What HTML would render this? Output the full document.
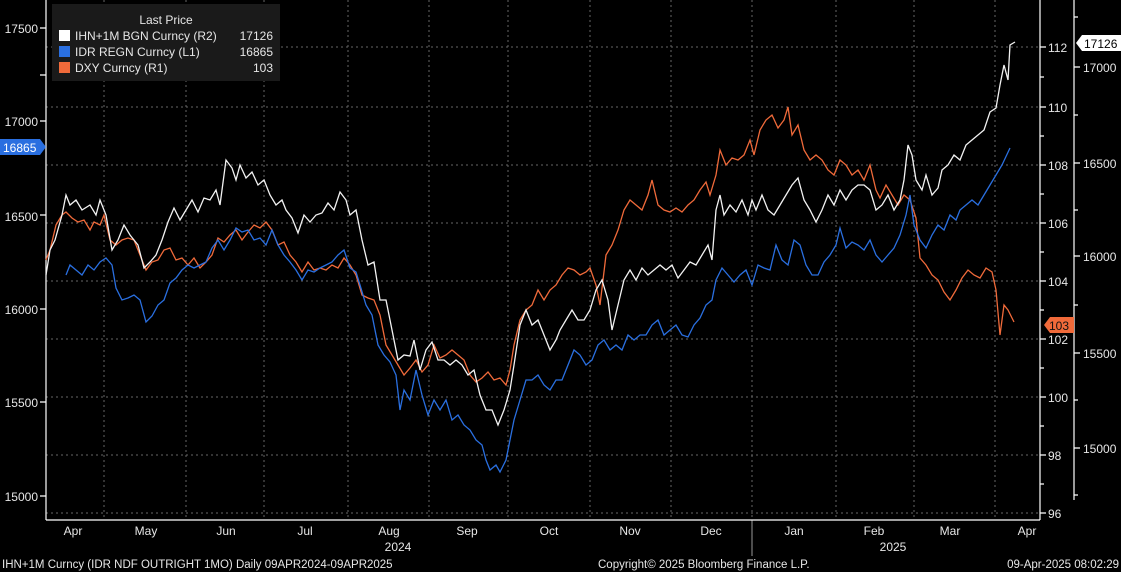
<!DOCTYPE html>
<html><head><meta charset="utf-8"><style>
body{margin:0;background:#000;width:1121px;height:572px;overflow:hidden}
svg{display:block}
text{font-family:"Liberation Sans",sans-serif;font-size:12px;fill:#e6e6e6}
</style></head><body>
<svg width="1121" height="572" viewBox="0 0 1121 572">
<rect width="1121" height="572" fill="#000"/>
<g stroke="#666" stroke-dasharray="2,3" stroke-width="1">
<line x1="46" x2="1040" y1="47" y2="47"/><line x1="46" x2="1040" y1="107" y2="107"/><line x1="46" x2="1040" y1="165" y2="165"/><line x1="46" x2="1040" y1="223" y2="223"/><line x1="46" x2="1040" y1="281" y2="281"/><line x1="46" x2="1040" y1="339" y2="339"/><line x1="46" x2="1040" y1="397" y2="397"/><line x1="46" x2="1040" y1="455" y2="455"/><line x1="46" x2="1040" y1="513" y2="513"/>
<line x1="104" x2="104" y1="0" y2="520"/><line x1="186" x2="186" y1="0" y2="520"/><line x1="264" x2="264" y1="0" y2="520"/><line x1="348" x2="348" y1="0" y2="520"/><line x1="429" x2="429" y1="0" y2="520"/><line x1="508" x2="508" y1="0" y2="520"/><line x1="590" x2="590" y1="0" y2="520"/><line x1="671" x2="671" y1="0" y2="520"/><line x1="752" x2="752" y1="0" y2="520"/><line x1="836" x2="836" y1="0" y2="520"/><line x1="914" x2="914" y1="0" y2="520"/><line x1="995" x2="995" y1="0" y2="520"/>
</g>
<g stroke="#fff" stroke-width="1.2" fill="none">
<line x1="46" y1="0" x2="46" y2="520"/><line x1="46" y1="520" x2="1040" y2="520"/>
<line x1="1040" y1="0" x2="1040" y2="520"/><line x1="1074" y1="0" x2="1074" y2="500"/>
<line x1="752" y1="520" x2="752" y2="556" stroke-width="0.6"/>
<path d="M40,28h6M40,75h6M40,121h6M40,215h6M40,309h6M40,402h6M40,496h6"/>
<path d="M1040,47h6M1040,77h4M1040,107h6M1040,136h4M1040,165h6M1040,194h4M1040,223h6M1040,252h4M1040,281h6M1040,310h4M1040,339h6M1040,368h4M1040,397h6M1040,426h4M1040,455h6M1040,484h4M1040,513h6"/>
<path d="M1074,67h6M1074,115h4M1074,163h6M1074,210h4M1074,256h6M1074,305h4M1074,353h6M1074,400h4M1074,448h6M1074,495h4M1074,17h4"/>
</g>
<polyline fill="none" stroke="#f06a3a" stroke-width="1.3" points="46,260 50,250 56,225 62,215 66,212 72,218 78,222 84,220 90,230 94,222 100,225 104,215 110,240 116,245 122,240 128,238 134,240 140,255 146,270 152,262 158,260 164,250 170,248 176,260 182,258 188,265 194,258 200,268 206,262 212,255 218,238 224,242 230,235 236,230 242,240 248,232 254,225 260,228 266,222 272,230 278,245 284,242 290,255 296,262 302,272 308,262 314,270 320,268 326,270 332,265 338,268 344,258 350,265 356,275 362,295 368,298 374,300 380,315 386,345 392,355 398,365 404,375 410,368 416,360 422,372 428,365 434,345 440,358 446,355 452,350 458,355 464,360 470,375 476,382 482,378 488,372 494,380 500,378 506,385 510,370 514,345 520,320 526,310 532,305 538,290 544,300 550,290 556,285 562,275 568,268 574,270 580,275 586,272 590,268 596,285 600,305 606,255 612,245 618,230 624,210 630,200 636,205 642,210 648,195 652,180 658,205 664,210 670,212 676,208 682,212 688,205 694,200 700,190 706,182 710,195 716,175 720,150 726,165 732,158 738,160 744,155 750,140 754,155 760,130 766,120 772,115 778,128 784,120 788,107 792,135 798,125 804,150 810,160 816,155 822,160 828,170 834,175 840,160 846,165 852,175 858,170 864,180 870,165 876,190 880,198 886,185 892,195 898,205 904,195 910,200 916,218 920,258 926,265 932,275 938,280 944,292 950,300 956,290 962,278 968,270 974,275 980,278 986,268 992,272 996,290 1000,335 1004,305 1008,310 1014,322"/>
<polyline fill="none" stroke="#2a6fe0" stroke-width="1.3" points="66,275 70,265 76,270 82,275 88,265 94,270 100,262 106,258 112,265 116,288 122,300 128,298 134,295 140,300 146,322 152,316 158,305 164,300 170,283 176,278 182,270 188,265 194,268 200,265 206,262 212,248 218,240 224,250 230,240 236,228 242,232 248,230 254,240 260,238 266,245 272,230 278,245 284,255 290,262 296,270 302,280 308,270 314,272 320,268 326,265 332,262 338,255 344,250 350,268 356,272 360,285 366,305 372,315 378,345 384,355 390,362 396,375 400,410 404,390 410,400 416,370 422,395 428,415 434,400 440,410 446,400 452,420 458,415 464,425 470,430 476,440 482,445 486,460 490,470 496,465 500,472 506,460 510,440 514,420 520,400 526,380 532,380 538,375 544,385 550,390 556,380 562,380 568,365 574,350 580,355 586,365 592,360 598,345 604,340 610,350 616,345 622,350 628,335 634,340 640,335 646,335 652,325 658,320 664,335 670,330 676,325 682,335 688,337 694,325 700,318 706,305 712,300 716,280 722,268 728,275 734,282 740,275 746,270 752,285 758,265 764,268 770,270 776,245 782,260 788,265 794,240 800,245 806,265 812,275 818,275 824,262 830,255 836,245 840,228 846,248 852,242 858,245 864,250 870,240 876,255 882,262 888,255 894,248 900,235 906,215 910,195 914,225 920,240 926,248 932,235 938,225 944,230 950,215 956,220 960,210 966,205 972,200 978,205 984,195 990,185 996,175 1002,165 1010,148"/>
<polyline fill="none" stroke="#f2f2f2" stroke-width="1.3" points="46,275 50,250 55,240 62,215 66,195 70,205 76,200 82,210 90,205 96,215 100,200 106,215 112,250 118,240 124,225 130,235 138,245 144,268 150,262 156,255 162,240 168,222 174,208 180,220 186,210 192,200 198,212 204,198 210,200 216,190 220,205 226,160 232,168 236,180 240,165 246,178 252,172 258,185 264,180 270,195 276,205 282,200 286,210 292,218 298,233 304,215 310,222 316,215 322,213 328,203 334,210 340,192 346,200 350,215 356,210 362,240 368,265 374,262 380,300 386,300 392,330 398,360 404,355 410,356 414,340 420,370 426,350 432,342 438,360 444,360 450,365 456,360 462,365 468,375 474,370 480,395 486,410 492,410 498,425 504,410 510,390 514,365 520,325 526,310 532,325 538,320 544,335 550,350 556,340 560,330 566,320 572,310 578,320 584,320 590,310 596,290 602,280 608,300 612,330 618,305 624,280 630,270 636,280 642,268 648,275 654,270 660,265 666,270 672,265 678,278 684,270 690,262 696,265 702,255 708,245 712,260 716,210 720,195 724,215 730,205 736,212 742,200 748,215 752,200 756,210 762,195 768,210 774,215 780,205 786,195 792,185 798,178 804,200 810,210 816,222 822,210 828,195 834,205 840,190 846,200 852,190 858,185 864,185 870,190 876,210 882,205 888,195 894,210 900,200 904,180 908,145 912,155 916,180 922,190 926,175 932,195 938,188 942,170 948,165 954,155 960,160 966,145 972,140 978,135 984,130 990,112 996,108 1000,85 1004,65 1008,80 1010,45 1015,42"/>
<rect x="52" y="4" width="228" height="77" fill="#1a1a1a"/>
<text x="166" y="24" text-anchor="middle">Last Price</text>
<rect x="59" y="30" width="11" height="11" fill="#fff"/><rect x="59" y="46" width="11" height="11" fill="#2a6fe0"/><rect x="59" y="62" width="11" height="11" fill="#f06a3a"/>
<text x="75" y="40">IHN+1M BGN Curncy  (R2)</text><text x="273" y="40" text-anchor="end">17126</text>
<text x="75" y="56">IDR REGN Curncy  (L1)</text><text x="273" y="56" text-anchor="end">16865</text>
<text x="75" y="72">DXY Curncy  (R1)</text><text x="273" y="72" text-anchor="end">103</text>
<g text-anchor="end">
<text x="38" y="33">17500</text><text x="38" y="126">17000</text><text x="38" y="221">16500</text><text x="38" y="314">16000</text><text x="38" y="407">15500</text><text x="38" y="501">15000</text>
</g>
<path d="M0,139 H40 L46,147 L40,155 H0Z" fill="#2a6fe0"/><text x="3" y="152" style="fill:#fff">16865</text>
<g text-anchor="start">
<text x="1048" y="52">112</text><text x="1048" y="112">110</text><text x="1048" y="170">108</text><text x="1048" y="228">106</text><text x="1048" y="286">104</text><text x="1048" y="344">102</text><text x="1048" y="402">100</text><text x="1048" y="460">98</text><text x="1048" y="518">96</text>
<text x="1083" y="72">17000</text><text x="1083" y="168">16500</text><text x="1083" y="261">16000</text><text x="1083" y="358">15500</text><text x="1083" y="453">15000</text>
</g>
<path d="M1044,325 L1050,317 H1074 V333 H1050Z" fill="#f06a3a"/><text x="1049" y="330" style="fill:#111">103</text>
<path d="M1076,43 L1082,35 H1121 V51 H1082Z" fill="#fff"/><text x="1084" y="48" style="fill:#000">17126</text>
<g text-anchor="middle">
<text x="73" y="535">Apr</text><text x="146" y="535">May</text><text x="226" y="535">Jun</text><text x="305" y="535">Jul</text><text x="389" y="535">Aug</text><text x="467" y="535">Sep</text><text x="549" y="535">Oct</text><text x="630" y="535">Nov</text><text x="711" y="535">Dec</text><text x="794" y="535">Jan</text><text x="874" y="535">Feb</text><text x="950" y="535">Mar</text><text x="1027" y="535">Apr</text>
<text x="398" y="551">2024</text><text x="893" y="551">2025</text>
</g>
<text x="2" y="568" style="font-size:11.5px">IHN+1M Curncy (IDR NDF OUTRIGHT    1MO)  Daily 09APR2024-09APR2025</text>
<text x="598" y="568" style="font-size:11.5px">Copyright© 2025 Bloomberg Finance L.P.</text>
<text x="1119" y="568" text-anchor="end" style="font-size:11.5px">09-Apr-2025 08:02:29</text>
</svg>
</body></html>
